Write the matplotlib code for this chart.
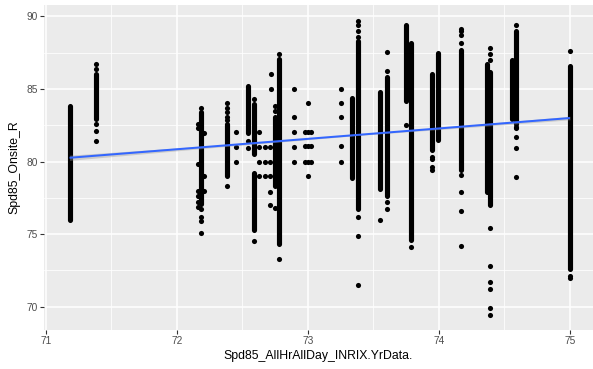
import matplotlib
matplotlib.use("Agg")
import matplotlib.pyplot as plt

# ---- data ----
# dense runs of overlapping points (x, lowest y, highest y)
run_x  = [71.18, 71.38, 72.18, 72.38, 72.54, 72.59, 72.59, 72.745, 72.78,
          73.34, 73.38, 73.55, 73.60, 73.75, 73.79, 73.95, 73.99, 74.17,
          74.37, 74.39, 74.56, 74.59, 75.00]
run_lo = [76.0, 82.9, 77.1, 79.0, 82.0, 80.5, 75.3, 78.3, 74.3,
          78.9, 76.7, 78.1, 77.6, 84.2, 74.6, 80.8, 81.5, 79.4,
          77.9, 77.0, 82.9, 82.6, 72.6]
run_hi = [83.8, 86.0, 83.4, 82.6, 85.2, 84.0, 79.2, 83.1, 87.1,
          84.4, 88.3, 84.8, 85.8, 89.4, 88.2, 86.0, 87.5, 87.7,
          86.7, 86.2, 87.0, 89.0, 86.6]

# isolated points
pt_x = ([71.38] * 5 + [72.18] * 5 + [72.16] * 7 + [72.21] * 3 + [72.38] * 6 +
        [72.45] * 3 + [72.54] * 2 + [72.59] * 2 + [72.63] * 4 + [72.67] * 3 +
        [72.71] * 5 + [72.72] * 2 + [72.745] * 3 + [72.78] * 2 + [72.89] * 5 +
        [73.00] * 5 + [72.98] * 3 + [73.02] * 3 + [73.25] * 5 + [73.38] * 7 +
        [73.55] * 1 + [73.60] * 4 + [73.75] * 1 + [73.79] * 1 + [73.95] * 4 +
        [74.17] * 8 + [74.39] * 9 + [74.59] * 6 + [75.00] * 3)
pt_y = ([86.75, 86.4, 82.6, 82.1, 81.4] +
        [83.66, 76.7, 76.2, 75.9, 75.1] +
        [82.6, 82.3, 79.8, 78.0, 77.6, 77.2, 76.9] +
        [82.0, 79.0, 78.0] +
        [84.07, 83.7, 83.4, 83.1, 82.85, 78.3] +
        [82.05, 81.02, 80.0] +
        [81.4, 80.9] +
        [84.34, 74.5] +
        [82.05, 81.02, 80.0, 79.0] +
        [81.02, 80.0, 79.0] +
        [81.02, 80.0, 79.0, 77.93, 77.0] +
        [86.06, 85.03] +
        [83.8, 83.5, 76.8] +
        [87.4, 73.3] +
        [85.03, 83.04, 82.05, 81.02, 79.99] +
        [84.04, 82.05, 81.05, 79.99, 79.0] +
        [82.05, 81.05, 80.0] +
        [82.05, 81.05, 80.0] +
        [85.03, 84.04, 83.04, 81.07, 79.99] +
        [89.7, 89.4, 89.0, 88.6, 76.2, 74.9, 71.5] +
        [76.0] +
        [87.55, 86.24, 77.2, 76.7] +
        [82.5] +
        [74.1] +
        [80.3, 80.15, 79.6, 79.4] +
        [89.15, 89.0, 88.7, 88.2, 79.07, 77.93, 76.6, 74.17] +
        [87.8, 87.4, 87.0, 75.4, 72.8, 71.7, 71.2, 69.9, 69.4] +
        [89.4, 82.4, 82.3, 81.7, 80.95, 78.96] +
        [87.6, 72.1, 71.95])

# linear fit and its confidence band
fit_x = [71.18, 75.00]
fit_y = [80.26, 83.00]
band_x = [71.18, 72.30, 73.40, 74.30, 75.00]
band_lo = [80.08, 80.98, 81.81, 82.40, 82.88]
band_hi = [80.44, 81.12, 81.89, 82.58, 83.12]

x_ticks = [71, 72, 73, 74, 75]
y_ticks = [70, 75, 80, 85, 90]
x_title = "Spd85_AllHrAllDay_INRIX.YrData."
y_title = "Spd85_Onsite_R"

# ---- drawing ----
W, H = 593, 369
fig = plt.figure(figsize=(W / 100, H / 100), dpi=100)
plt.rcParams['font.family'] = ['Liberation Sans', 'DejaVu Sans']
ax = fig.add_axes([44 / W, 1 - 330 / H, (593 - 44) / W, (330 - 5) / H])
ax.set_facecolor('#EBEBEB')
ax.set_xlim(70.985, 75.176)
ax.set_ylim(68.39, 90.79)

for v in [71.5, 72.5, 73.5, 74.5]:
    ax.axvline(v, color='white', lw=0.55, zorder=0)
for v in [72.5, 77.5, 82.5, 87.5]:
    ax.axhline(v, color='white', lw=0.55, zorder=0)
for v in x_ticks:
    ax.axvline(v, color='white', lw=1.1, zorder=0)
for v in y_ticks:
    ax.axhline(v, color='white', lw=1.1, zorder=0)

dot_pt = 3.7
ax.vlines(run_x, run_lo, run_hi, colors='black', lw=dot_pt,
          capstyle='round', zorder=2)
# round caps on vlines
for line in ax.collections:
    line.set_capstyle('round')
ax.scatter(pt_x, pt_y, s=dot_pt ** 2, c='black', linewidths=0, zorder=2)

ax.fill_between(band_x, band_lo, band_hi, color='#999999', alpha=0.4,
                lw=0, zorder=3)
ax.plot(fit_x, fit_y, color='#3366FF', lw=1.45, zorder=4,
        solid_capstyle='butt')

for s in ax.spines.values():
    s.set_visible(False)
ax.set_xticks(x_ticks)
ax.set_yticks(y_ticks)
ax.set_xticklabels([str(t) for t in x_ticks])
ax.set_yticklabels([str(t) for t in y_ticks])
ax.tick_params(axis='both', length=3, width=0.8, color='#333333',
               labelcolor='#4D4D4D', labelsize=7.3, pad=1.5)
ax.set_xlabel(x_title, fontsize=8.8, color='black', labelpad=3)
ax.set_ylabel(y_title, fontsize=8.8, color='black', labelpad=4)

fig.savefig('out.png', dpi=100, facecolor='white')
